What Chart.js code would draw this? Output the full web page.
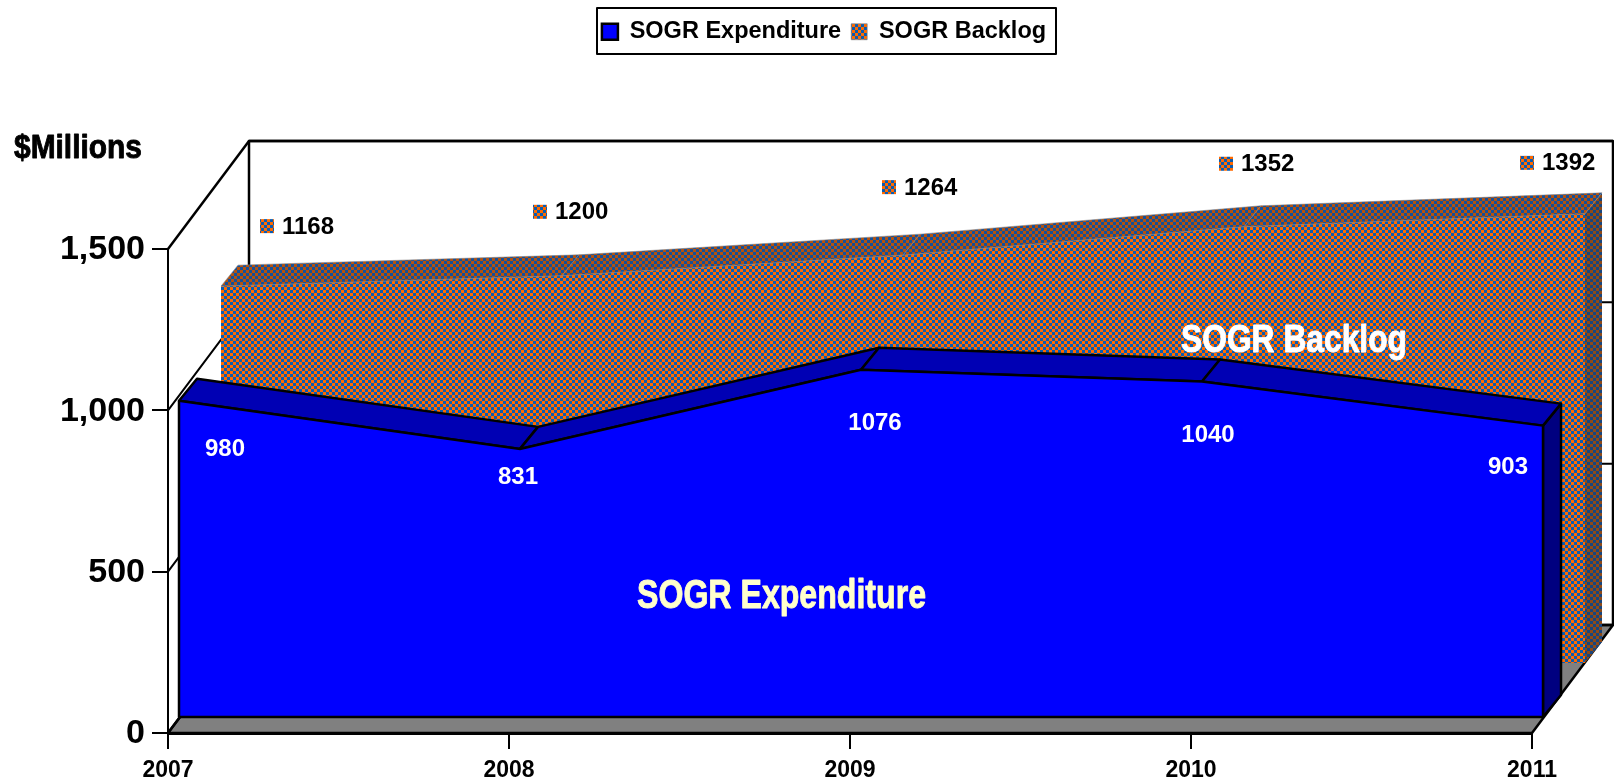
<!DOCTYPE html>
<html>
<head>
<meta charset="utf-8">
<style>html,body{margin:0;padding:0;background:#fff;overflow:hidden}canvas{display:block}</style>
<script src="https://cdn.jsdelivr.net/npm/chart.js@4"></script>
</head>
<body>
<div style="width:1614px;height:781px"><canvas id="c" width="1614" height="781"></canvas></div>
<script>
const categories = ['2007','2008','2009','2010','2011'];
const expenditure = [980,831,1076,1040,903];
const backlog = [1168,1200,1264,1352,1392];
const yTicks = [0,500,1000,1500];

// label nudges, in pixels, from each value's place on the front plane
const expLabelDX = [57,9,25,17,-24];
const expLabelDY = [33,13,38,38,26];
const backMarkDX = [99,31,39,35,-5];
const backMarkDY = [-130,-134,-138,-133,-121];

const WALL = {dx:81, dy:-108};
const EXP = {front:{x:11,y:-16}, depth:{x:18,y:-22}};
const BACK = {front:{x:53,y:-70}, depth:{x:17,y:-21}};
const ARIAL = '"Liberation Sans", Arial, sans-serif';
const NARROW = '"Liberation Sans Narrow", "Liberation Sans", Arial, sans-serif';

function checker(a, b, size) {
  const p = document.createElement('canvas');
  p.width = p.height = size * 2;
  const g = p.getContext('2d');
  g.fillStyle = a; g.fillRect(0,0,size*2,size*2);
  g.fillStyle = b; g.fillRect(size,0,size,size); g.fillRect(0,size,size,size);
  return document.createElement('canvas').getContext('2d').createPattern(p,'repeat');
}
const patFront = checker('#FF6A00','#0A5CB0',3);
const patTop = checker('#B4520F','#14509A',3);
const patSide = checker('#8E4A18','#18467E',3);

function poly(ctx, pts, fill, stroke, lw) {
  ctx.beginPath();
  pts.forEach((p,i)=> i ? ctx.lineTo(p[0],p[1]) : ctx.moveTo(p[0],p[1]));
  ctx.closePath();
  if (fill) { ctx.fillStyle = fill; ctx.fill(); }
  if (stroke) { ctx.strokeStyle = stroke; ctx.lineWidth = lw; ctx.lineJoin='round'; ctx.stroke(); }
}
function fitText(ctx, text, font, color, x0, x1, base) {
  ctx.save();
  ctx.font = font; ctx.fillStyle = color; ctx.strokeStyle = color; ctx.lineWidth = 0.9; ctx.lineJoin='round';
  ctx.textAlign='left'; ctx.textBaseline='alphabetic';
  const w = ctx.measureText(text).width;
  ctx.translate(x0, base); ctx.scale((x1-x0)/w, 1);
  ctx.fillText(text, 0, 0);
  ctx.strokeText(text, 0, 0);
  ctx.restore();
}

const solid = {
  id:'solid3d',
  afterLayout(chart){
    const lg = chart.legend;
    lg.left = 585; lg.right = 1063; lg.width = 478; lg.top = 10;
  },
  beforeDatasetsDraw(chart){
    const {ctx, scales:{x,y}} = chart;
    const x0 = x.getPixelForValue(0), x1 = x.getPixelForValue(categories.length-1);
    const y0 = y.getPixelForValue(0), yT = y.getPixelForValue(1500);
    ctx.save();
    // floor
    poly(ctx, [[x0,y0],[x1,y0],[x1+WALL.dx,y0+WALL.dy],[x0+WALL.dx,y0+WALL.dy]], '#808080', '#000', 2.5);
    // side and back walls, with gridlines coming off each tick
    ctx.strokeStyle='#000'; ctx.lineWidth=2;
    yTicks.forEach(v=>{
      const py = y.getPixelForValue(v);
      ctx.lineWidth = (v===1500||v===0) ? 2.5 : 2;
      ctx.beginPath(); ctx.moveTo(x0,py); ctx.lineTo(x0+WALL.dx,py+WALL.dy); ctx.lineTo(x1+WALL.dx,py+WALL.dy); ctx.stroke();
    });
    ctx.lineWidth=2.5;
    ctx.beginPath(); ctx.moveTo(x0+WALL.dx,y0+WALL.dy); ctx.lineTo(x0+WALL.dx,yT+WALL.dy);
    ctx.lineTo(x1+WALL.dx,yT+WALL.dy); ctx.lineTo(x1+WALL.dx,y0+WALL.dy); ctx.stroke();
    ctx.restore();
  },
  beforeDatasetDraw(chart,args){
    const {ctx, scales:{y}} = chart;
    const s = args.index===0 ? EXP : BACK;
    const pts = args.meta.data;
    const fx = s.front.x, fy = s.front.y, dx = s.depth.x, dy = s.depth.y;
    const y0 = y.getPixelForValue(0)+fy;
    const last = pts[pts.length-1];
    const lx = last.x+fx, ly = last.y+fy;
    const isExp = args.index===0;
    // right side
    poly(ctx, [[lx,ly],[lx+dx,ly+dy],[lx+dx,y0+dy],[lx,y0]], isExp?'#000080':patSide, isExp?'#000':null, 2.5);
    // top faces, one per segment
    for (let i=0;i<pts.length-1;i++){
      const a=pts[i], b=pts[i+1];
      const q=[[a.x+fx,a.y+fy],[b.x+fx,b.y+fy],[b.x+fx+dx,b.y+fy+dy],[a.x+fx+dx,a.y+fy+dy]];
      poly(ctx,q,isExp?'#0000B4':patTop,isExp?'#000':'rgba(130,125,125,.55)',isExp?2.5:1);
    }
    ctx.save();
    ctx.translate(fx,fy);
  },
  afterDatasetDraw(chart,args){
    const {ctx, scales:{y}} = chart;
    ctx.restore();
    if (args.index===0){
      const pts=args.meta.data, s=EXP;
      const y0=y.getPixelForValue(0)+s.front.y;
      ctx.save();
      ctx.strokeStyle='#000'; ctx.lineWidth=2.5;
      ctx.beginPath();
      ctx.moveTo(pts[0].x+s.front.x,pts[0].y+s.front.y);
      ctx.lineTo(pts[0].x+s.front.x,y0);
      ctx.lineTo(pts[pts.length-1].x+s.front.x,y0);
      ctx.lineTo(pts[pts.length-1].x+s.front.x,pts[pts.length-1].y+s.front.y);
      ctx.stroke();
      ctx.restore();
    }
  },
  afterDatasetsDraw(chart){
    const {ctx, scales:{x,y}} = chart;
    ctx.save();
    // white labels on the front series
    ctx.font='bold 24px '+ARIAL; ctx.textAlign='center'; ctx.textBaseline='middle'; ctx.fillStyle='#fff';
    expenditure.forEach((v,i)=>{
      ctx.fillText(String(v), x.getPixelForValue(i)+expLabelDX[i], y.getPixelForValue(v)+expLabelDY[i]);
    });
    // backlog labels with their small keys
    backlog.forEach((v,i)=>{
      const mx=x.getPixelForValue(i)+backMarkDX[i], my=y.getPixelForValue(v)+backMarkDY[i];
      ctx.fillStyle=patFront; ctx.fillRect(mx-7,my-7,14,14);
      ctx.fillStyle='#000'; ctx.textAlign='left';
      ctx.fillText(String(v), mx+15, my+1);
    });
    ctx.restore();
    fitText(ctx,'$Millions','bold 33px '+NARROW,'#000',14,142,158);
    fitText(ctx,'SOGR Expenditure','bold 40px '+NARROW,'#FFFFCC',637,926,608);
    fitText(ctx,'SOGR Backlog','bold 38px '+NARROW,'#FFFFFF',1181,1407,352);
    // legend frame
    ctx.save(); ctx.strokeStyle='#000'; ctx.lineWidth=2; ctx.strokeRect(597,8,459,46); ctx.restore();
  }
};

const filler = Chart.registry.plugins.get('filler');
Chart.unregister(filler);
Chart.register(solid);
Chart.register(filler);

const chart = new Chart(document.getElementById('c'),{
  type:'line',
  data:{
    labels:categories,
    datasets:[
      {label:'SOGR Expenditure',data:expenditure,backgroundColor:'#0000FF',borderColor:'#000',borderWidth:2.5,fill:'origin',pointRadius:0,tension:0,clip:false},
      {label:'SOGR Backlog',data:backlog,backgroundColor:patFront,borderColor:'rgba(130,125,125,.6)',borderWidth:1,fill:'origin',pointRadius:0,tension:0,clip:false}
    ]
  },
  options:{
    responsive:false,
    animation:false,
    layout:{padding:{left:0,right:82,top:180,bottom:0}},
    scales:{
      x:{
        type:'category',
        offset:false,
        border:{display:true,color:'#000',width:3},
        grid:{display:true,drawOnChartArea:false,drawTicks:true,tickLength:16,color:'#000',lineWidth:2,offset:false},
        ticks:{color:'#000',font:{family:ARIAL,size:23,weight:'bold'},padding:8,autoSkip:false,maxRotation:0},
        afterFit(s){s.height=48;}
      },
      y:{
        min:0,max:1500,
        border:{display:true,color:'#000',width:2},
        grid:{display:true,drawOnChartArea:false,drawTicks:true,tickLength:16,color:'#000',lineWidth:2},
        ticks:{color:'#000',font:{family:ARIAL,size:34,weight:'bold'},padding:7,stepSize:500,labelOffset:1},
        afterFit(s){s.width=168;}
      }
    },
    plugins:{
      legend:{
        display:true,position:'top',align:'center',
        labels:{color:'#000',font:{family:ARIAL,size:23.5,weight:'bold'},boxWidth:16,boxHeight:16,padding:10}
      },
      tooltip:{enabled:false},
      title:{display:false}
    }
  }
});
const delta = chart.chartArea.top - 249;
chart.options.layout.padding.top -= delta;
chart.update('none');
</script>
</body>
</html>
